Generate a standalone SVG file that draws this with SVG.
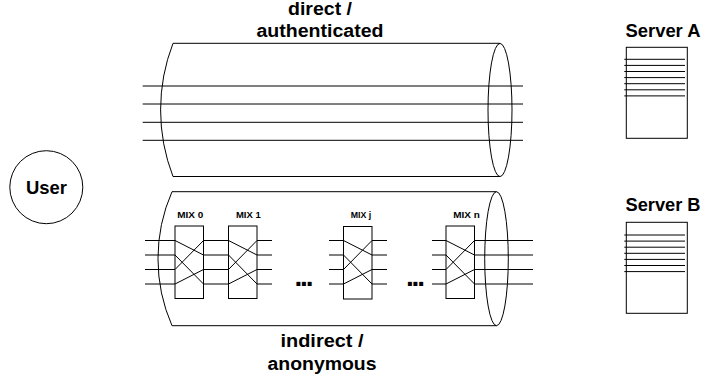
<svg xmlns="http://www.w3.org/2000/svg" width="704" height="382" viewBox="0 0 704 382">
<style>
.s{fill:none;stroke:#000;stroke-width:1}
.b{fill:#fff;stroke:#000;stroke-width:1}
.t{font-family:"Liberation Sans",Arial,sans-serif;font-weight:bold;fill:#000}
.lg{font-size:17.5px}
.sm{font-size:9px}
</style>
<rect width="704" height="382" fill="#fff"/>
<g id="tunnel-direct">
<path class="s" d="M173,43.3 L500,43.3 M173,176.5 L500,176.5 M173,43.3 A185,185 0 0 0 173,176.5"/>
<ellipse class="s" cx="500" cy="110" rx="12" ry="66.6"/>
<text class="t lg" x="320" y="14.8" text-anchor="middle" textLength="64" lengthAdjust="spacingAndGlyphs">direct /</text>
<text class="t lg" x="320" y="36.5" text-anchor="middle" textLength="127" lengthAdjust="spacingAndGlyphs">authenticated</text>
</g>
<g id="tunnel-indirect">
<path class="s" d="M172,191.7 L496.5,191.7 M172,325.7 L496.5,325.7 M172,191.7 A167,167 0 0 0 172,325.7"/>
<ellipse class="s" cx="496.5" cy="258.7" rx="11.8" ry="67"/>
<text class="t lg" x="322" y="346.5" text-anchor="middle" textLength="83" lengthAdjust="spacingAndGlyphs">indirect /</text>
<text class="t lg" x="322" y="370" text-anchor="middle" textLength="109" lengthAdjust="spacingAndGlyphs">anonymous</text>
</g>
<g id="user">
<circle class="b" cx="46.3" cy="187.2" r="36.5"/>
<text class="t" font-size="19" x="46.5" y="194" text-anchor="middle" textLength="41" lengthAdjust="spacingAndGlyphs">User</text>
</g>
<g id="connectors">
<path class="s" d="M142.7,86 H523 M142.7,104 H523 M142.7,122.3 H523 M142.7,140.3 H523"/>
<path class="s" d="M145,240.5 H175 M145,255 H175 M145,269.5 H175 M145,284 H175"/>
<path class="s" d="M203.5,240.5 H228.5 M203.5,255 H228.5 M203.5,269.5 H228.5 M203.5,284 H228.5"/>
<path class="s" d="M257,240.5 H272 M257,255 H272 M257,269.5 H272 M257,284 H272"/>
<path class="s" d="M329,240.5 H343.5 M329,255 H343.5 M329,269.5 H343.5 M329,284 H343.5"/>
<path class="s" d="M372,240.5 H387 M372,255 H387 M372,269.5 H387 M372,284 H387"/>
<path class="s" d="M432,240.5 H446 M432,255 H446 M432,269.5 H446 M432,284 H446"/>
<path class="s" d="M474.5,240.5 H533 M474.5,255 H533 M474.5,269.5 H533 M474.5,284 H533"/>
<text class="t" x="294.5" y="286" font-size="28" textLength="19" lengthAdjust="spacing">...</text>
<text class="t" x="406" y="286" font-size="28" textLength="19" lengthAdjust="spacing">...</text>
</g>
<g id="mix0">
<rect class="b" x="175" y="226" width="28.5" height="72.5"/>
<path class="s" d="M175,240.5 L203.5,255 M175,255 L203.5,284 M175,269.5 L203.5,240.5 M175,284 L203.5,269.5"/>
<text class="t sm" x="177.3" y="217.9" textLength="26" lengthAdjust="spacingAndGlyphs">MIX 0</text>
</g>
<g id="mix1">
<rect class="b" x="228.5" y="226" width="28.5" height="72.5"/>
<path class="s" d="M228.5,240.5 L257,255 M228.5,255 L257,284 M228.5,269.5 L257,240.5 M228.5,284 L257,269.5"/>
<text class="t sm" x="236" y="217.9" textLength="24.7" lengthAdjust="spacingAndGlyphs">MIX 1</text>
</g>
<g id="mixj">
<rect class="b" x="343.5" y="226.5" width="28.5" height="72.5"/>
<path class="s" d="M343.5,240.5 L372,255 M343.5,255 L372,284 M343.5,269.5 L372,240.5 M343.5,284 L372,269.5"/>
<text class="t sm" x="350.7" y="218.1" textLength="20.5" lengthAdjust="spacingAndGlyphs">MIX j</text>
</g>
<g id="mixn">
<rect class="b" x="446" y="226" width="28.5" height="72.5"/>
<path class="s" d="M446,240.5 L474.5,255 M446,255 L474.5,284 M446,269.5 L474.5,240.5 M446,284 L474.5,269.5"/>
<text class="t sm" x="453.3" y="217.9" textLength="26.5" lengthAdjust="spacingAndGlyphs">MIX n</text>
</g>
<g id="serverA">
<text class="t lg" x="625.5" y="36.7" textLength="75" lengthAdjust="spacingAndGlyphs">Server A</text>
<rect class="s" x="626.3" y="47.3" width="61" height="91" stroke-width="1.4"/>
<path class="s" d="M624.3,59.3 H685 M624.3,65.4 H685 M624.3,71.5 H685 M624.3,77.6 H685 M624.3,83.7 H685 M624.3,89.8 H685 M624.3,95.9 H685"/>
</g>
<g id="serverB">
<text class="t lg" x="625.5" y="210.7" textLength="75" lengthAdjust="spacingAndGlyphs">Server B</text>
<rect class="s" x="626.3" y="222.3" width="61" height="91" stroke-width="1.4"/>
<path class="s" d="M624.3,235 H685 M624.3,241.1 H685 M624.3,247.2 H685 M624.3,253.3 H685 M624.3,259.4 H685 M624.3,265.5 H685 M624.3,271.6 H685"/>
</g>
</svg>
